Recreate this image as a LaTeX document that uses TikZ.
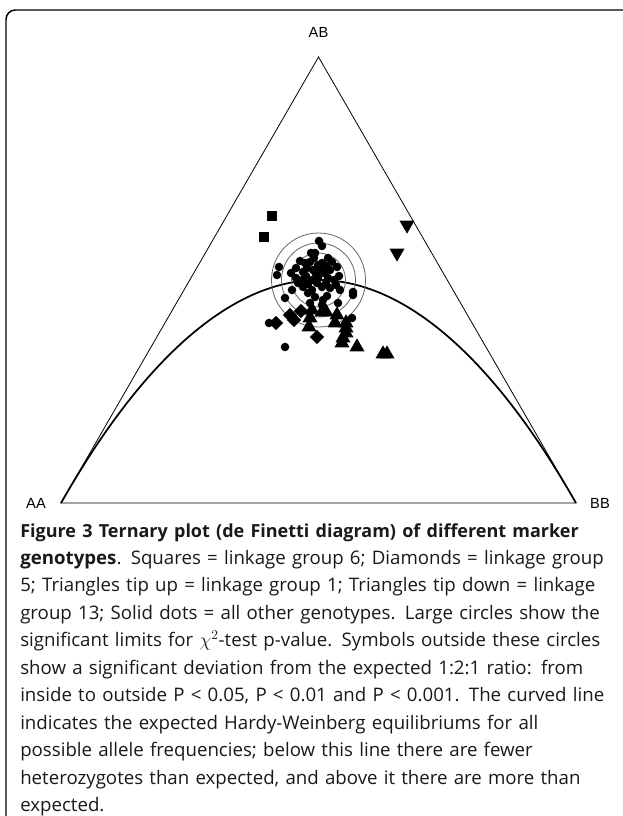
\documentclass[tikz,border=0pt]{standalone}
\usepackage{fontspec}
\setmainfont{Open Sans}
\newfontfamily\cornerfont{Liberation Sans}
\usetikzlibrary{shapes.geometric}
\newcommand*{\capline}[2]{\makebox[#1pt][s]{#2}\\}
\tikzset{
    frame/.style = {line width=1.1pt,rounded corners=7pt},
    side/.style = {line width=0.6pt},
    hwcurve/.style = {line width=1.3pt},
    limit/.style = {black!60,line width=0.6pt},
    corner/.style = {font=\cornerfont\fontsize{11}{13}\selectfont},
    caption/.style = {text width=444pt,align=left,inner sep=0,
        text=black!90,font=\fontsize{14}{20.6}\selectfont},
    dotmark/.style = {circle,fill,inner sep=0,minimum size=6.4pt},
    sqmark/.style = {rectangle,fill,inner sep=0,minimum size=7pt},
    dmmark/.style = {diamond,fill,inner sep=0,minimum size=11pt},
    upmark/.style = {regular polygon,regular polygon sides=3,fill,inner sep=0,minimum size=13pt},
    downmark/.style = {upmark,shape border rotate=180}
}
\begin{document}
\begin{tikzpicture}[x=0.75pt,y=-0.75pt]
        \useasboundingbox (0,0) rectangle (622,816);
        % Frame
        \draw[frame] (6,820) -- (6,10) -- (624,10);
        % Triangle corners
        \path (61,503) coordinate (aa)
            (576,503) coordinate (bb)
            (318.5,57) coordinate (ab)
            (318.5,280) coordinate (hw)
        ;
        \node[corner] (AB) at (318.5,32) {AB};
        \node[corner] (AA) at (36,503) {AA};
        \node[corner] (BB) at (600,503) {BB};
        \draw[side] (aa) -- (bb) -- (ab) -- cycle;
        % Hardy-Weinberg curve
        \draw[hwcurve] (aa) parabola bend (hw) (bb);
        % Significance limits
        \foreach \r in {27,37,47}
            \draw[limit] (hw) circle[radius=\r];
        % Markers
        \foreach \x/\y [count=\i] in {319/241,322/246,311/253,315/253,300/261,310/262,
            314/258,279/267,277/275,291/273,307/268,303/272,318/265,322/263,326/266,
            320/270,316/274,324/273,330/270,332/262,337/267,339/276,334/280,328/278,
            298/283,302/280,296/278,303/287,308/284,312/290,312/280,317/283,322/287,
            326/283,330/288,292/290,285/298,308/293,315/297,327/296,323/300,353/292,
            353/295,338/303,322/305,310/303,352/318,269/323,285/347,318/278,306/276,
            313/270,328/258,336/285,340/290,296/268,305/263}
            \node[dotmark] (dot\i) at (\x,\y) {};
        \foreach \x/\y [count=\i] in {272/216,264/237}
            \node[sqmark] (sq\i) at (\x,\y) {};
        \foreach \x/\y [count=\i] in {276/323,290/315,294/320,301/311,317/337}
            \node[dmmark] (dm\i) at (\x,\y) {};
        \foreach \x/\y [count=\i] in {312/310,322/312,326/312,310/318,309/327,337/315,
            335/323,346/323,346/328,346/333,343/338,342/343,357/347,383/354,387/354}
            \node[upmark] (up\i) at (\x,\y) {};
        \foreach \x/\y [count=\i] in {407/225,397/253}
            \node[downmark] (down\i) at (\x,\y) {};
        % Caption
        \node[caption,anchor=base west] (cap) at (20,537) {%
            \capline{444}{\fontsize{13.5}{20.6}\selectfont\bfseries Figure 3 Ternary plot (de Finetti diagram) of different marker}
            \capline{444}{\textbf{genotypes}. Squares = linkage group 6; Diamonds = linkage group}
            \capline{444}{5; Triangles tip up = linkage group 1; Triangles tip down = linkage}
            \capline{444}{group 13; Solid dots = all other genotypes. Large circles show the}
            \capline{422}{significant limits for $\chi^{2}$-test p-value. Symbols outside these circles}
            \capline{396}{show a significant deviation from the expected 1:2:1 ratio: from}
            \capline{444}{inside to outside P < 0.05, P < 0.01 and P < 0.001. The curved line}
            \capline{380}{indicates the expected Hardy-Weinberg equilibriums for all}
            \capline{386}{possible allele frequencies; below this line there are fewer}
            \capline{436}{heterozygotes than expected, and above it there are more than}
            expected.};
\end{tikzpicture}
\end{document}
